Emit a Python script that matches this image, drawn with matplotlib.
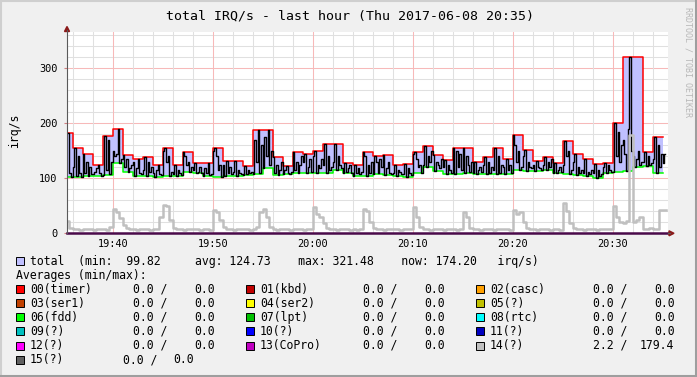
import matplotlib
matplotlib.use("Agg")
import matplotlib.pyplot as plt
import numpy as np
from matplotlib.patches import Rectangle, Polygon
from matplotlib.lines import Line2D

plt.rcParams["font.family"] = ["DejaVu Sans Mono"]

W, H = 697, 377

# ---- data (time in minutes after 19:35) ----
tick_minutes = [5, 15, 25, 35, 45, 55]
tick_labels = ["19:40", "19:50", "20:00", "20:10", "20:20", "20:30"]

# per-minute maximum (red) and minimum (green) of total irq/s
total_max = [182, 155, 144, 125, 177, 189, 142, 135, 138, 125,
             155, 124, 147, 128, 127, 155, 131, 131, 122, 187,
             187, 139, 123, 148, 145, 150, 163, 163, 127, 125,
             148, 141, 142, 124, 126, 148, 159, 143, 134, 156,
             155, 129, 138, 156, 136, 178, 152, 132, 139, 127,
             167, 145, 135, 126, 128, 200, 321.48, 321.48, 147, 175]
total_min = [103, 103, 105, 105, 106, 127, 112, 104, 104, 103,
             105, 104, 112, 109, 104, 103, 105, 105, 106, 108,
             118, 106, 107, 109, 109, 110, 110, 115, 109, 105,
             104, 107, 106, 105, 103, 109, 121, 114, 107, 108,
             109, 107, 107, 107, 108, 115, 114, 114, 116, 109,
             108, 106, 105, 99.82, 110, 112, 114, 121, 122, 110]

# 10 s samples of total irq/s, grouped by minute
total_now = [
    [182, 110, 103],
    [120, 155, 105, 140, 110, 103], [144, 110, 130, 105, 120, 108],
    [108, 112, 118, 125, 110, 105], [106, 177, 115, 170, 108, 130],
    [150, 140, 145, 189, 127, 135], [142, 120, 135, 112, 118, 125],
    [130, 104, 118, 135, 110, 108], [115, 138, 104, 130, 112, 120],
    [110, 103, 115, 125, 108, 106], [150, 155, 130, 140, 105, 112],
    [108, 124, 104, 115, 110, 106], [147, 140, 125, 130, 112, 120],
    [115, 128, 109, 112, 120, 110], [104, 118, 110, 127, 106, 108],
    [150, 155, 140, 115, 125, 103], [125, 105, 131, 110, 120, 108],
    [112, 131, 105, 115, 110, 108], [106, 122, 108, 115, 110, 112],
    [108, 170, 130, 187, 110, 160], [118, 175, 140, 187, 125, 150],
    [139, 110, 125, 106, 115, 130], [107, 115, 123, 110, 108, 112],
    [148, 115, 130, 109, 125, 140], [130, 145, 109, 120, 135, 112],
    [140, 150, 110, 125, 118, 135], [125, 163, 110, 140, 115, 120],
    [130, 163, 115, 140, 125, 118], [110, 127, 112, 118, 125, 109],
    [105, 125, 110, 118, 108, 112], [148, 140, 104, 125, 110, 130],
    [107, 141, 130, 110, 135, 120], [142, 106, 118, 130, 110, 108],
    [110, 124, 105, 115, 112, 108], [108, 126, 103, 118, 110, 106],
    [145, 148, 135, 120, 125, 109], [125, 159, 121, 140, 130, 150],
    [143, 114, 130, 125, 118, 135], [120, 134, 107, 125, 115, 110],
    [156, 108, 150, 120, 145, 115], [155, 109, 140, 125, 112, 130],
    [110, 129, 107, 115, 120, 112], [125, 138, 107, 130, 110, 120],
    [115, 156, 107, 140, 110, 125], [120, 108, 136, 115, 125, 110],
    [178, 160, 130, 150, 115, 120], [140, 152, 114, 130, 120, 118],
    [125, 114, 132, 120, 118, 116], [125, 139, 116, 130, 120, 135],
    [110, 127, 109, 115, 120, 112], [125, 167, 140, 150, 108, 115],
    [130, 145, 106, 120, 110, 115], [110, 135, 105, 112, 108, 115],
    [110, 126, 99.82, 115, 105, 108], [120, 128, 110, 125, 115, 112],
    [112, 200, 140, 185, 130, 160], [170, 145, 114, 190, 321.48, 150],
    [140, 121, 135, 150, 125, 130], [130, 147, 122, 140, 125, 128],
    [135, 175, 110, 160, 120, 145],
    [127, 145],
]

# 20 s samples of irq 14, grouped by minute
irq14 = [
    [22, 9], [7, 8, 6], [7, 8, 7], [6, 7, 8], [7, 6, 12],
    [45, 38, 28], [15, 9, 7], [8, 6, 7], [7, 8, 6], [7, 8, 30],
    [52, 50, 25], [10, 8, 7], [6, 8, 7], [8, 7, 6], [7, 8, 6],
    [42, 38, 25], [12, 8, 7], [6, 8, 7], [8, 7, 6], [7, 12, 38],
    [45, 30, 12], [8, 6, 7], [8, 7, 6], [7, 8, 7], [6, 7, 8],
    [48, 35, 30], [18, 9, 7], [8, 6, 7], [7, 8, 6], [7, 6, 8],
    [45, 40, 20], [9, 7, 8], [6, 8, 7], [8, 7, 6], [7, 8, 7],
    [47, 30, 12], [8, 7, 6], [8, 7, 8], [6, 7, 8], [7, 6, 8],
    [39, 30, 10], [7, 8, 6], [8, 7, 7], [6, 8, 7], [7, 8, 6],
    [42, 35, 38], [20, 9, 7], [8, 6, 7], [7, 8, 6], [8, 7, 6],
    [56, 40, 18], [9, 7, 8], [6, 8, 7], [7, 6, 8], [7, 8, 7],
    [50, 30, 20], [18, 22, 179.4], [21, 25, 30], [8, 7, 9], [8, 7, 42],
    [42],
]

legend_names = ["00(timer)", "01(kbd)", "02(casc)", "03(ser1)", "04(ser2)", "05(?)",
                "06(fdd)", "07(lpt)", "08(rtc)", "09(?)", "10(?)", "11(?)",
                "12(?)", "13(CoPro)", "14(?)", "15(?)"]
legend_colors = ["#ff0000", "#c00000", "#ffa000", "#c04000", "#ffff00", "#c0c000",
                 "#00ff00", "#00c000", "#00ffff", "#00c0c0", "#0000ff", "#0000c0",
                 "#ff00ff", "#c000c0", "#c0c0c0", "#606060"]
legend_min = [0.0] * 14 + [2.2, 0.0]
legend_max = [0.0] * 14 + [179.4, 0.0]


def sample_times(groups, per_min, end_t):
    ts, vs = [], []
    last = len(groups) - 1
    for m, g in enumerate(groups):
        n = len(g)
        start = m if (n == per_min or m == last) else m + 1 - n / per_min
        ts += [start + k / per_min for k in range(n)]
        vs += g
    ts.append(end_t)
    vs.append(vs[-1])
    return np.array(ts), np.array(vs, dtype=float)


def fx(x):
    return x / W


def fy(y):
    return 1 - y / H


fig = plt.figure(figsize=(W / 100, H / 100), dpi=100, facecolor="#f0f0f0")
ax = fig.add_axes([fx(67), fy(233.3), 601 / W, (233.3 - 32.3) / H])
ax.set_facecolor("white")
ax.set_xlim(0.43, 60.53)
ax.set_ylim(0, 365.5)
for s in ax.spines.values():
    s.set_visible(False)

# grid
for v in range(20, 366, 20):
    ax.axhline(v, color="#f7b9b9" if v % 100 == 0 else "#e0e0e0", lw=0.75, zorder=1)
for t in range(1, 61, 2):
    ax.axvline(t, color="#f7b9b9" if (t - 5) % 10 == 0 else "#e0e0e0", lw=0.75, zorder=1)

edges = np.concatenate([[0.43], np.arange(1, 61)])
mx = np.append(total_max, total_max[-1])
mn = np.append(total_min, total_min[-1])
ax.fill_between(edges, mn, mx, step="post", color="#c0c0ff", lw=0, zorder=2)
ax.step(edges, mx, where="post", color="#ff0000", lw=1.1, zorder=3)
ax.step(edges, mn, where="post", color="#00ff00", lw=1.1, zorder=3)

tn, vn = sample_times(total_now, 6, 60.25)
ax.step(tn, vn, where="post", color="black", lw=1.0, zorder=4)

tg, vg = sample_times(irq14, 3, 60.3)
ax.step(tg, vg, where="post", color="#c0c0c0", lw=1.8, zorder=5)

ax.axhline(0, color="#4a0a4a", lw=1.8, zorder=6, clip_on=False)

ax.set_xticks(tick_minutes)
ax.set_xticklabels(tick_labels)
ax.set_yticks([0, 100, 200, 300])
ax.tick_params(axis="x", length=0, pad=4, labelsize=7.4)
ax.tick_params(axis="y", length=2, color="#d08080", pad=5, labelsize=7.4)

# axis lines with arrows
fig.add_artist(Line2D([fx(67), fx(67)], [fy(233.3), fy(30)], color="#5a5a5a", lw=0.8))
fig.add_artist(Polygon([(fx(64.5), fy(31.5)), (fx(69.5), fy(31.5)), (fx(67), fy(26.5))],
                       closed=True, color="#8b1a1a"))
fig.add_artist(Line2D([fx(668), fx(670)], [fy(233.3), fy(233.3)], color="#5a5a5a", lw=0.8))
fig.add_artist(Polygon([(fx(669), fy(230.8)), (fx(669), fy(235.8)), (fx(674), fy(233.3))],
                       closed=True, color="#8b1a1a"))

# texts
fig.text(fx(349.7), fy(16), "total IRQ/s - last hour (Thu 2017-06-08 20:35)",
         ha="center", va="center", fontsize=9.5)
fig.text(fx(15), fy(130.5), "irq/s", rotation=90, ha="center", va="center", fontsize=8.3)
fig.text(fx(688), fy(62), "RRDTOOL / TOBI OETIKER", rotation=270, ha="center", va="center",
         fontsize=6, color="#b8b8b8")


def swatch(x, y, color):
    fig.add_artist(Rectangle((fx(x), fy(y + 4)), 8 / W, 8 / H, facecolor=color,
                             edgecolor="black", lw=0.7))


fs = 8.3
swatch(16, 261, "#c0c0ff")
fig.text(fx(30), fy(261), "total  (min:  99.82     avg: 124.73    max: 321.48    now: 174.20   irq/s)",
         ha="left", va="center", fontsize=fs)
fig.text(fx(16), fy(275.7), "Averages (min/max):", ha="left", va="center", fontsize=fs)

for i, name in enumerate(legend_names):
    row, col = divmod(i, 3)
    y = 289.3 + 14.05 * row
    x0 = 230 * col
    swatch(16 + x0, y, legend_colors[i])
    fig.text(fx(30 + x0), y=fy(y), s=name, ha="left", va="center", fontsize=fs)
    if name == "15(?)":
        fig.text(fx(123), fy(y), f"{legend_min[i]:.1f} /", ha="left", va="center", fontsize=fs)
        fig.text(fx(173), fy(y), f"{legend_max[i]:.1f}", ha="left", va="center", fontsize=fs)
    else:
        fig.text(fx(133 + x0), fy(y), f"{legend_min[i]:.1f} /", ha="left", va="center", fontsize=fs)
        fig.text(fx(214.5 + x0), fy(y), f"{legend_max[i]:.1f}", ha="right", va="center", fontsize=fs)

# window frame
fig.add_artist(Line2D([0, 1], [fy(0.5), fy(0.5)], color="#cfcfcf", lw=1.5))
fig.add_artist(Line2D([fx(0.5), fx(0.5)], [0, 1], color="#cfcfcf", lw=1.5))
fig.add_artist(Line2D([0, 1], [fy(375.5), fy(375.5)], color="#9e9e9e", lw=2.2))
fig.add_artist(Line2D([fx(695.5), fx(695.5)], [0, 1], color="#9e9e9e", lw=2.2))

fig.savefig("out.png", dpi=100, facecolor=fig.get_facecolor())
